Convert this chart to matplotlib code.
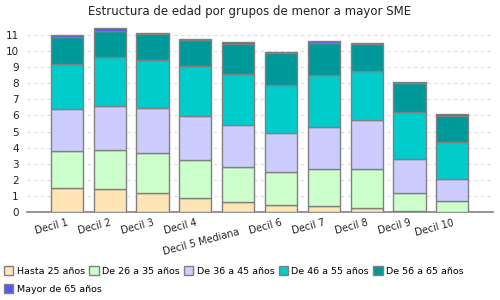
import matplotlib
matplotlib.use("Agg")
import matplotlib.pyplot as plt
from matplotlib.patches import Patch
import numpy as np

# Deciles and age-group shares
deciles = ['Decil 1', 'Decil 2', 'Decil 3', 'Decil 4', 'Decil 5 Mediana',
           'Decil 6', 'Decil 7', 'Decil 8', 'Decil 9', 'Decil 10']
groups = ['Hasta 25 años', 'De 26 a 35 años', 'De 36 a 45 años',
          'De 46 a 55 años', 'De 56 a 65 años', 'Mayor de 65 años']

hasta25 = [1.49, 1.43, 1.18, 0.87, 0.62, 0.44, 0.37, 0.25, 0.06, 0.02]
de26_35 = [2.30, 2.42, 2.49, 2.36, 2.20, 2.05, 2.30, 2.42, 1.12, 0.66]
de36_45 = [2.61, 2.74, 2.79, 2.74, 2.57, 2.42, 2.61, 3.05, 2.11, 1.37]
de46_55 = [2.80, 3.04, 2.99, 3.10, 3.21, 2.98, 3.23, 3.04, 2.92, 2.30]
de56_65 = [1.68, 1.64, 1.59, 1.60, 1.84, 2.01, 1.99, 1.70, 1.83, 1.64]
mayor65 = [0.12, 0.17, 0.08, 0.08, 0.13, 0.04, 0.13, 0.04, 0.04, 0.10]

colors = ['#FFE4B5', '#CCFFCC', '#CCCCFF', '#00CCCC', '#009999', '#5555FF']
series = [hasta25, de26_35, de36_45, de46_55, de56_65, mayor65]

fig = plt.figure(figsize=(5, 3), dpi=100)
ax = fig.add_axes([0.054, 0.293, 0.932, 0.623])

x = np.arange(len(deciles))
bottom = np.zeros(len(deciles))
for vals, col in zip(series, colors):
    ax.bar(x, vals, width=0.75, bottom=bottom, color=col,
           edgecolor='#808080', linewidth=1.0, zorder=3)
    bottom += np.array(vals)

ax.set_xlim(-0.93, 9.95)
ax.set_ylim(0, 11.6)
ax.set_yticks(range(0, 12))
ax.yaxis.grid(True, linestyle=(0, (3, 3)), color='#DDDDDD', linewidth=0.8, zorder=0)

for s in ['top', 'right', 'left']:
    ax.spines[s].set_visible(False)
ax.spines['bottom'].set_color('#808080')
ax.spines['bottom'].set_linewidth(1.2)

ax.tick_params(axis='y', length=0, labelsize=7.5, pad=6, labelcolor='#222222')
ax.tick_params(axis='x', length=0, labelsize=7, pad=4, labelcolor='#222222')
ax.set_xticks(x)
ax.set_xticklabels(deciles, rotation=15, ha='right', rotation_mode='anchor')
# the median label sits a bit lower in the reference
for lbl in ax.get_xticklabels():
    if 'Mediana' in lbl.get_text():
        lbl.set_y(-0.05)

fig.suptitle('Estructura de edad por grupos de menor a mayor SME',
             y=0.985, fontsize=8.5, color='#222222')

handles = [Patch(facecolor=c, edgecolor='#808080', label=g)
           for c, g in zip(colors, groups)]
leg_kw = dict(frameon=False, fontsize=6.8, handlelength=1.0, handleheight=1.0,
              handletextpad=0.35, columnspacing=0.45, borderaxespad=0,
              borderpad=0)
fig.legend(handles=handles[:5], ncol=5, loc='center left',
           bbox_to_anchor=(0.008, 0.097), **leg_kw)
fig.legend(handles=handles[5:], ncol=1, loc='center left',
           bbox_to_anchor=(0.008, 0.037), **leg_kw)

fig.savefig('out.png', dpi=100)
